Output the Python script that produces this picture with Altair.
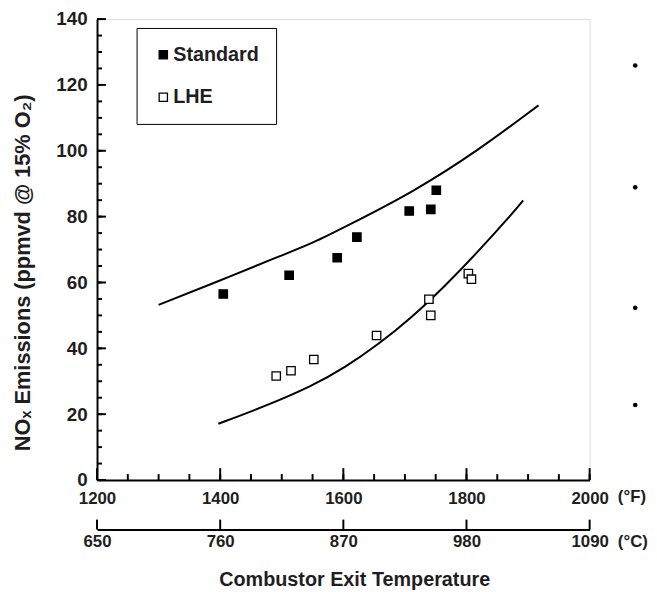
import altair as alt
import pandas as pd

# ---- data ----
std_temp = [1405, 1512, 1590, 1622, 1707, 1742, 1751]
std_nox = [56.5, 62.2, 67.5, 73.8, 81.7, 82.2, 88.0]

lhe_temp = [1491, 1515, 1552, 1654, 1739, 1742, 1803, 1808]
lhe_nox = [31.6, 33.2, 36.6, 43.9, 54.9, 50.0, 62.7, 61.0]

upper_temp = [1300, 1392, 1499, 1550, 1606, 1713, 1820, 1917]
upper_nox = [53.2, 60.0, 68.2, 71.9, 77.2, 87.4, 100.2, 113.8]

lower_temp = [1397, 1469, 1550, 1603, 1657, 1710, 1764, 1818, 1871, 1892]
lower_nox = [17.1, 22.1, 28.6, 34.2, 41.2, 49.2, 58.7, 69.2, 80.2, 84.9]

dot_temp = [2074, 2074, 2074, 2074]
dot_nox = [125.9, 88.9, 52.3, 22.8]

f_major = [1200, 1400, 1600, 1800, 2000]
f_minor = list(range(1200, 2001, 50))
y_major = [0, 20, 40, 60, 80, 100, 120, 140]
y_minor = list(range(0, 141, 5))
c_ticks = [650, 760, 870, 980, 1090]

series_names = ["Standard", "LHE"]

# ---- styling ----
FONT = "Liberation Sans"
TXT = "#1e1e1e"
W, H = 498, 466

points_df = pd.DataFrame({
    "temp": std_temp + lhe_temp,
    "nox": std_nox + lhe_nox,
    "series": ["Standard"] * len(std_temp) + ["LHE"] * len(lhe_temp),
})
curves_df = pd.DataFrame({
    "temp": upper_temp + lower_temp,
    "nox": upper_nox + lower_nox,
    "curve": ["upper"] * len(upper_temp) + ["lower"] * len(lower_temp),
})
dots_df = pd.DataFrame({"temp": dot_temp, "nox": dot_nox})
cel_df = pd.DataFrame({"v": c_ticks})
fmaj_df = pd.DataFrame({"v": f_major})
fmin_df = pd.DataFrame({"v": f_minor})
ymaj_df = pd.DataFrame({"v": y_major})
ymin_df = pd.DataFrame({"v": y_minor})


def xs():
    return alt.Scale(domain=[1200, 2000], nice=False, zero=False)


def ys():
    return alt.Scale(domain=[0, 140], nice=False, zero=False)


def cs():
    return alt.Scale(domain=[650, 1090], nice=False, zero=False)


# main curves + main axes (labels, domain lines, titles)
curves = alt.Chart(curves_df).mark_line(color="black", strokeWidth=2, interpolate="basis").encode(
    x=alt.X("temp:Q", scale=xs(), axis=alt.Axis(
        orient="bottom", values=f_major, format="d", tickSize=0, labelPadding=11, grid=False,
        labelFlush=False, domainColor="black", domainWidth=2,
        labelFont=FONT, labelFontSize=17, labelFontWeight="bold", labelColor=TXT,
        title="(°F)", titleX=526, titleY=17, titleAlign="left", titleBaseline="middle",
        titleFont=FONT, titleFontSize=17, titleFontWeight="bold", titleColor=TXT)),
    y=alt.Y("nox:Q", scale=ys(), axis=alt.Axis(
        orient="left", values=y_major, format="d", tickSize=0, labelPadding=10, grid=False,
        labelFlush=False, domainColor="black", domainWidth=2,
        labelFont=FONT, labelFontSize=19, labelFontWeight="bold", labelColor=TXT,
        title="NOₓ Emissions (ppmvd @ 15% O₂)", titleX=-75, titleY=256, titleAngle=-90,
        titleAlign="center", titleBaseline="middle",
        titleFont=FONT, titleFontSize=22, titleFontWeight="bold", titleColor=TXT)),
    detail="curve:N",
)

# data points + legend
points = alt.Chart(points_df).mark_square(size=72, stroke="black", strokeWidth=1.3, opacity=1).encode(
    x=alt.X("temp:Q", scale=xs(), axis=None),
    y=alt.Y("nox:Q", scale=ys(), axis=None),
    fill=alt.Fill("series:N", scale=alt.Scale(domain=series_names, range=["black", "white"]),
                  legend=alt.Legend(orient="none", legendX=40, legendY=9, title=None,
                                    labelFont=FONT, labelFontSize=20, labelFontWeight="bold",
                                    labelColor=TXT, symbolType="square", symbolSize=70,
                                    symbolStrokeColor="black", symbolStrokeWidth=1.3,
                                    labelOffset=0, rowPadding=23, padding=17,
                                    strokeColor="black")),
)

# stray dots on the right edge
dots = alt.Chart(dots_df).mark_circle(size=22, color="black", opacity=1).encode(
    x=alt.X("temp:Q", scale=xs(), axis=None),
    y=alt.Y("nox:Q", scale=ys(), axis=None),
)


# inward ticks (major and minor) on the bottom and left edges
def xticks(df, length):
    return alt.Chart(df).mark_tick(color="black", orient="vertical", thickness=2,
                                   size=length, yOffset=-length / 2, opacity=1).encode(
        x=alt.X("v:Q", scale=xs(), axis=None),
        y=alt.Y(datum=0, scale=ys(), axis=None),
    )


def yticks(df, length):
    return alt.Chart(df).mark_tick(color="black", orient="horizontal", thickness=2,
                                   size=length, xOffset=length / 2, opacity=1).encode(
        x=alt.X(datum=1200, scale=xs(), axis=None),
        y=alt.Y("v:Q", scale=ys(), axis=None),
    )


# Celsius axis: line, labels and upward ticks
cel_axis = alt.Chart(cel_df).mark_tick(color="black", orient="vertical", thickness=2,
                                       size=10, yOffset=45, opacity=1).encode(
    x=alt.X("v:Q", scale=cs(), axis=alt.Axis(
        orient="bottom", offset=50, values=c_ticks, format="d", tickSize=0, labelPadding=4,
        grid=False, labelFlush=False, domainColor="black", domainWidth=2,
        labelFont=FONT, labelFontSize=17, labelFontWeight="bold", labelColor=TXT,
        title="(°C)", titleX=526, titleY=12, titleAlign="left", titleBaseline="middle",
        titleFont=FONT, titleFontSize=17, titleFontWeight="bold", titleColor=TXT)),
    y=alt.Y(datum=0, scale=ys(), axis=None),
)

# overall x title
x_title = alt.Chart(cel_df).mark_point(opacity=0).encode(
    x=alt.X("v:Q", scale=cs(), axis=alt.Axis(
        orient="top", offset=-(H + 50), values=c_ticks, ticks=False, labels=False,
        domain=False, grid=False,
        title="Combustor Exit Temperature", titleX=260, titleY=51,
        titleAlign="center", titleBaseline="middle",
        titleFont=FONT, titleFontSize=20, titleFontWeight="bold", titleColor=TXT)),
)

chart = alt.layer(
    curves, points, dots, cel_axis, x_title,
    xticks(fmin_df, 6), xticks(fmaj_df, 12), yticks(ymin_df, 5), yticks(ymaj_df, 9),
).resolve_scale(
    x="independent", y="independent"
).properties(
    width=W, height=H,
    autosize=alt.AutoSizeParams(type="none"),
    padding={"left": 90, "top": 8, "right": 60, "bottom": 110},
).configure_view(
    stroke="black", strokeWidth=2
).configure_legend(
    strokeWidth=2
).configure(background="white")

chart.save("out.html", embed_options={"renderer": "svg", "actions": False})
